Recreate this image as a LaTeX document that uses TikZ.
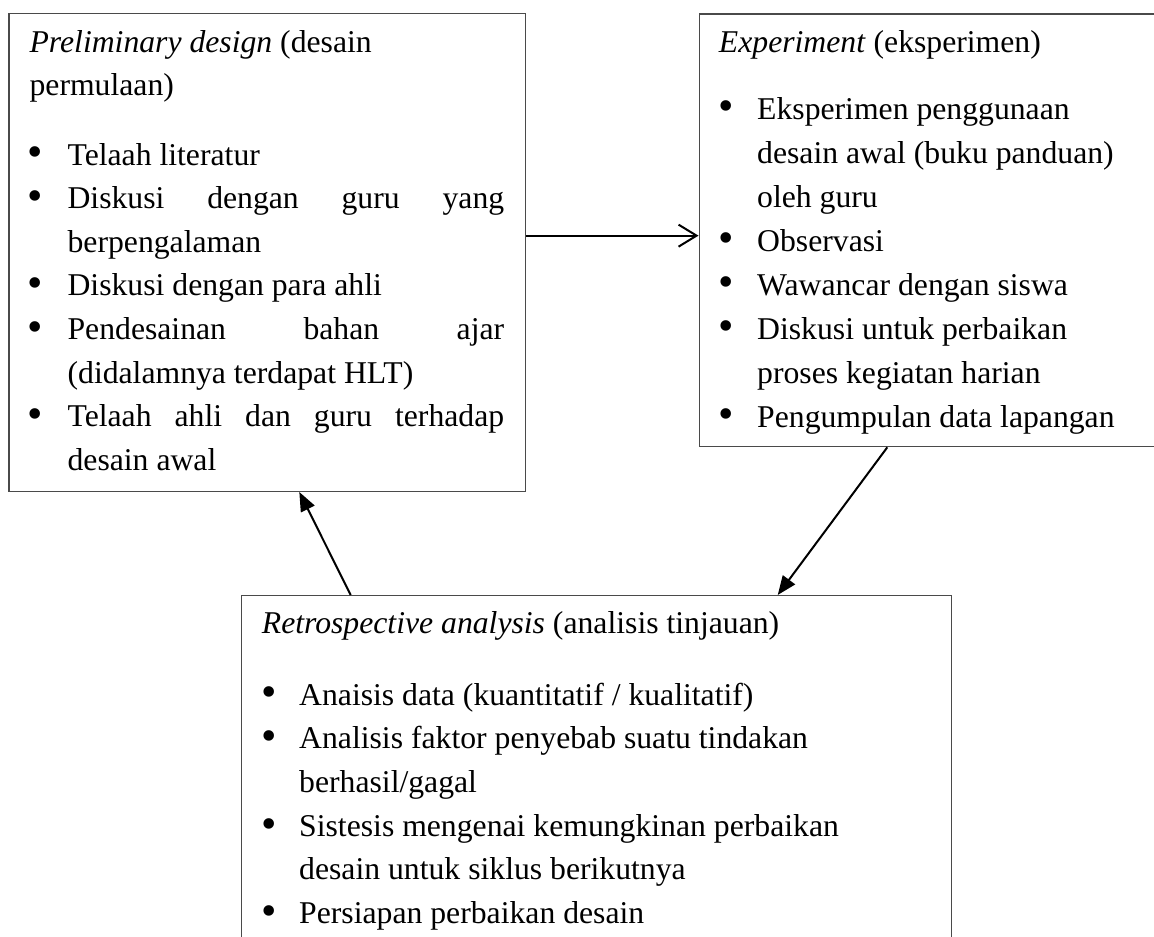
\documentclass[tikz,border=0pt]{standalone}
\usepackage{fontspec}
\setmainfont{Liberation Serif}
\usetikzlibrary{arrows.meta,calc}
\definecolor{boxgray}{HTML}{4A4A4A}
\begin{document}
\begin{tikzpicture}[x=1pt,y=-1pt,
  box/.style={draw=boxgray, line width=1.3pt, rectangle, inner sep=0pt, anchor=north west},
  txt/.style={anchor=base west, inner sep=0pt, font=\fontsize{31.7}{38}\selectfont},
  bul/.style={anchor=center, inner sep=0pt, yshift=8pt, font=\fontsize{44}{50}\selectfont},
  openarrow/.style={line width=2pt, -{Straight Barb[length=18pt,width=22pt,line width=2pt]}},
  solidarrow/.style={line width=2pt, -{Triangle[length=19pt,width=15pt]}}]
\fill[white] (0,0) rectangle (1154,937);
\useasboundingbox (0,0) rectangle (1154,937);

% boxes
\node[box, minimum width=516.7pt, minimum height=477.7pt] (pre) at (8.3,13) {};
\node[box, minimum width=461.5pt, minimum height=432.7pt] (exp) at (698.5,13.3) {};
\node[box, minimum width=709.7pt, minimum height=360pt] (ret) at (241,595) {};

% box 1 text
\node[txt] (p0) at (29.4,52) {\textit{Preliminary design} (desain};
\node[txt] (p1) at (29.4,95.5) {permulaan)};
\node[bul] (pb1) at (35.7,165) {\textbullet};
\node[bul] (pb2) at (35.7,208.6) {\textbullet};
\node[bul] (pb3) at (35.7,295.8) {\textbullet};
\node[bul] (pb4) at (35.7,339.4) {\textbullet};
\node[bul] (pb5) at (35.7,426.6) {\textbullet};
\node[txt] (pt1) at (67.4,165) {Telaah literatur};
\node[txt] (pt2) at (67.4,208.6) {\makebox[436.6pt][s]{Diskusi dengan guru yang}};
\node[txt] (pt3) at (67.4,252.2) {berpengalaman};
\node[txt] (pt4) at (67.4,295.8) {Diskusi dengan para ahli};
\node[txt] (pt5) at (67.4,339.4) {\makebox[436.6pt][s]{Pendesainan bahan ajar}};
\node[txt] (pt6) at (67.4,383) {(didalamnya terdapat HLT)};
\node[txt] (pt7) at (67.4,426.6) {\makebox[436.6pt][s]{Telaah ahli dan guru terhadap}};
\node[txt] (pt8) at (67.4,470.2) {desain awal};

% box 2 text
\node[txt] (e0) at (718.75,52) {\textit{Experiment} (eksperimen)};
\node[bul] (eb1) at (726,119) {\textbullet};
\node[bul] (eb2) at (726,251) {\textbullet};
\node[bul] (eb3) at (726,295) {\textbullet};
\node[bul] (eb4) at (726,339) {\textbullet};
\node[bul] (eb5) at (726,427) {\textbullet};
\node[txt] (et1) at (757,119) {Eksperimen penggunaan};
\node[txt] (et2) at (757,163) {desain awal (buku panduan)};
\node[txt] (et3) at (757,207) {oleh guru};
\node[txt] (et4) at (757,251) {Observasi};
\node[txt] (et5) at (757,295) {Wawancar dengan siswa};
\node[txt] (et6) at (757,339) {Diskusi untuk perbaikan};
\node[txt] (et7) at (757,383) {proses kegiatan harian};
\node[txt] (et8) at (757,427) {Pengumpulan data lapangan};

% box 3 text
\node[txt] (r0) at (261.7,633.3) {\textit{Retrospective analysis} (analisis tinjauan)};
\node[bul] (rb1) at (268.7,705) {\textbullet};
\node[bul] (rb2) at (268.7,748.7) {\textbullet};
\node[bul] (rb3) at (268.7,836.1) {\textbullet};
\node[bul] (rb4) at (268.7,923.5) {\textbullet};
\node[txt] (rt1) at (299,705) {Anaisis data (kuantitatif / kualitatif)};
\node[txt] (rt2) at (299,748.7) {Analisis faktor penyebab suatu tindakan};
\node[txt] (rt3) at (299,792.4) {berhasil/gagal};
\node[txt] (rt4) at (299,836.1) {Sistesis mengenai kemungkinan perbaikan};
\node[txt] (rt5) at (299,879.8) {desain untuk siklus berikutnya};
\node[txt] (rt6) at (299,923.5) {Persiapan perbaikan desain};

% connectors
\coordinate (h1) at ([yshift=16.85pt]pre.east);
\draw[openarrow] (h1) -- (h1 -| exp.west);
\coordinate (d1) at ([xshift=188.8pt]exp.south west);
\coordinate (d2) at ([xshift=536.7pt]ret.north west);
\draw[solidarrow] (d1) -- (d2);
\coordinate (u1) at ([xshift=109.7pt]ret.north west);
\coordinate (u2) at ([xshift=291pt]pre.south west);
\draw[solidarrow] (u1) -- (u2);
\end{tikzpicture}
\end{document}
